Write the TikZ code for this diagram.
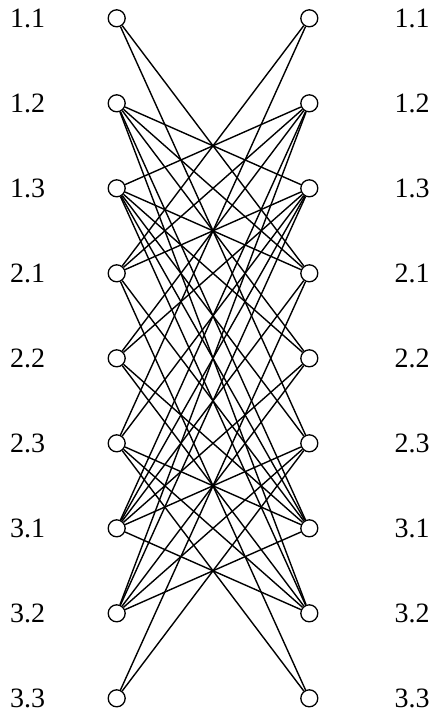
\documentclass[tikz,border=0pt]{standalone}
\usepackage{fontspec}
\setmainfont{Liberation Serif}
\begin{document}
\begin{tikzpicture}[x=1pt,y=-1pt,
  vtx/.style={circle,draw,line width=1.3pt,minimum size=17pt,inner sep=0pt},
  lab/.style={font=\fontsize{28}{30}\selectfont},
  edge/.style={line width=1.4pt}]
\useasboundingbox (0,0) rectangle (433,715);
\foreach \n [count=\k from 0] in {1.1,1.2,1.3,2.1,2.2,2.3,3.1,3.2,3.3}{
  \node[vtx] (L\k) at (116.7,18.3+85*\k) {};
  \node[vtx] (R\k) at (309.3,18.3+85*\k) {};
  \node[lab] (tl\k) at (27.5,18.3+85*\k) {\n};
  \node[lab] (tr\k) at (412,18.3+85*\k) {\n};
}
\foreach \a/\b in {0/3,0/5,
  1/2,1/3,1/4,1/6,1/7,
  2/1,2/3,2/4,2/5,2/6,2/7,
  3/0,3/1,3/2,3/6,3/8,
  4/1,4/2,4/6,4/7,
  5/0,5/2,5/6,5/7,5/8,
  6/1,6/2,6/3,6/4,6/5,6/7,
  7/1,7/2,7/4,7/5,7/6,
  8/3,8/5}{
  \draw[edge] (L\a) -- (R\b);
}
\end{tikzpicture}
\end{document}
